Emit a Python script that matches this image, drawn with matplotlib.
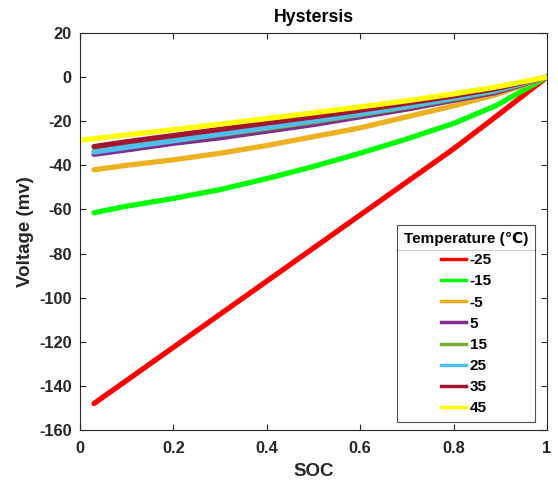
import matplotlib.pyplot as plt
from matplotlib.lines import Line2D

plt.rcParams['font.family'] = ['Liberation Sans', 'DejaVu Sans']
plt.rcParams['font.weight'] = 'bold'
plt.rcParams['axes.unicode_minus'] = False

soc = [0.03, 0.1, 0.2, 0.3, 0.4, 0.5, 0.6, 0.7, 0.8, 0.89, 1.0]
soc_45 = [0.005, 0.1, 0.2, 0.3, 0.4, 0.5, 0.6, 0.7, 0.8, 0.89, 1.0]

v_m25 = [-148, -137.5, -122.5, -107.5, -92.5, -77.5, -62.5, -47.5, -32.5, -18, 0]
v_m15 = [-61.5, -58.5, -55, -51, -46, -40.5, -34.5, -28, -21, -13, 0]
v_m5 = [-42, -40, -37.5, -34.5, -31, -27, -23, -18, -13, -8, 0]
v_5 = [-35, -33, -30, -27.5, -24.5, -21.5, -18, -14.5, -10.5, -7, 0]
v_15 = [-33.5, -31.5, -28.8, -26, -23.2, -20.2, -17, -13.5, -9.8, -6.3, 0]
v_25 = [-34, -31.8, -28.8, -25.8, -22.8, -19.8, -16.6, -13.2, -9.5, -6, 0]
v_35 = [-31.5, -29.3, -26.5, -23.7, -20.8, -18, -15, -11.8, -8.5, -5.2, 0]
v_45 = [-28.5, -26.2, -23.8, -21.3, -18.8, -16.2, -13.5, -10.7, -7.6, -4.5, 0]

labels = ['-25', '-15', '-5', '5', '15', '25', '35', '45']
colors = ['#FF0000', '#00FF00', '#EDB120', '#7E2F8E',
          '#77AC30', '#4DBEEE', '#A2142F', '#FFFF00']
series = [v_m25, v_m15, v_m5, v_5, v_15, v_25, v_35, v_45]
xs = [soc] * 7 + [soc_45]

fig = plt.figure(figsize=(5.58, 4.82), dpi=100)
ax = fig.add_axes([0.1434, 0.1079, 0.8369, 0.8236])

for x, y, c in zip(xs, series, colors):
    ax.plot(x, y, color=c, linewidth=3.8, solid_capstyle='round',
            solid_joinstyle='round')

ax.set_xlim(0, 1)
ax.set_ylim(-160, 20)
ax.set_xticks([0, 0.2, 0.4, 0.6, 0.8, 1])
ax.set_xticklabels(['0', '0.2', '0.4', '0.6', '0.8', '1'])
ax.set_yticks(range(-160, 21, 20))
ax.tick_params(direction='in', top=True, right=True, labelsize=11.8,
               length=4, width=0.8, colors='#262626')
ax.tick_params(axis='x', pad=8)
ax.tick_params(axis='y', pad=6)
for lab in ax.get_xticklabels() + ax.get_yticklabels():
    lab.set_fontweight('bold')
for s in ax.spines.values():
    s.set_color('#262626')
    s.set_linewidth(0.8)

ax.set_xlabel('SOC', fontsize=13.5, fontweight='bold', color='#262626',
              labelpad=5)
ax.set_ylabel('Voltage (mv)', fontsize=13.5, fontweight='bold',
              color='#262626', labelpad=4)
ax.set_title('Hystersis', fontsize=12.8, fontweight='bold', pad=8)

handles = [Line2D([], [], color=c, linewidth=2.5) for c in colors]
leg = fig.legend(handles, labels, loc='upper left',
                 bbox_to_anchor=(0.7115, 0.5332), title='Temperature (℃)',
                 prop={'weight': 'bold', 'size': 11},
                 title_fontproperties={'weight': 'bold', 'size': 11},
                 frameon=True, fancybox=False, edgecolor='#262626',
                 handlelength=1.7, handletextpad=0.2, labelspacing=0.47,
                 borderpad=0.45, borderaxespad=0)
leg.get_frame().set_linewidth(0.8)

fig.canvas.draw()
r = fig.canvas.get_renderer()
lb = leg.get_window_extent(r).transformed(fig.transFigure.inverted())
tb = leg.get_title().get_window_extent(r).transformed(fig.transFigure.inverted())
ysep = tb.y0 - 0.008
fig.add_artist(Line2D([lb.x0, lb.x1], [ysep, ysep], color='#262626',
                      linewidth=0.8, transform=fig.transFigure))

fig.savefig('out.png', dpi=100)
